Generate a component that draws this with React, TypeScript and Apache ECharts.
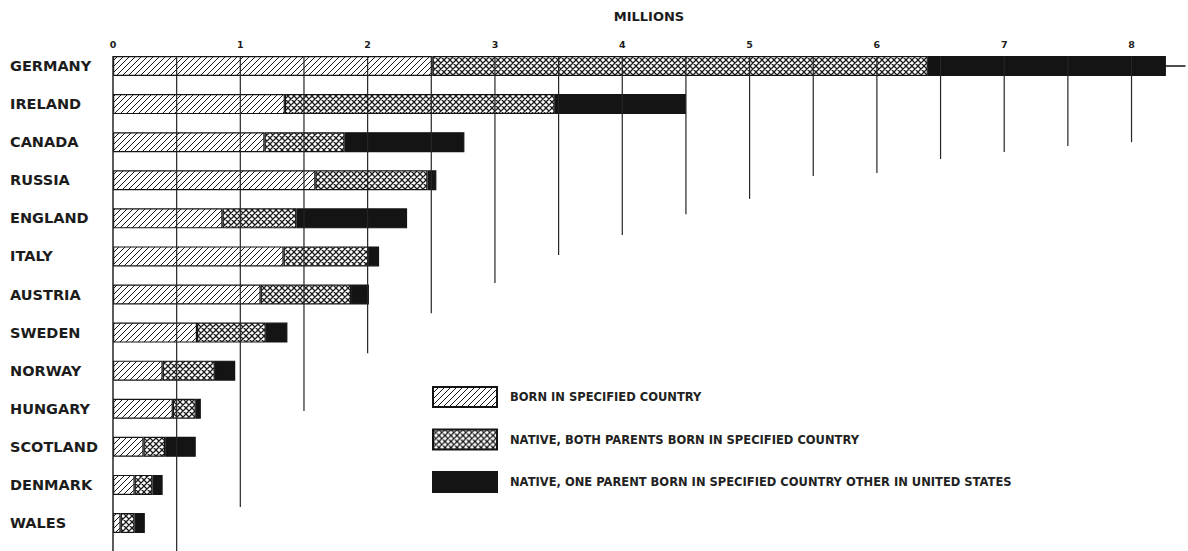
import React, { useEffect, useRef } from "react";
import * as echarts from "echarts";

const categories = ["GERMANY", "IRELAND", "CANADA", "RUSSIA", "ENGLAND", "ITALY", "AUSTRIA", "SWEDEN", "NORWAY", "HUNGARY", "SCOTLAND", "DENMARK", "WALES"];
const bornAbroad = [2.51, 1.35, 1.19, 1.59, 0.86, 1.34, 1.16, 0.66, 0.39, 0.47, 0.24, 0.17, 0.06];
const bothParents = [3.89, 2.12, 0.63, 0.88, 0.58, 0.67, 0.71, 0.54, 0.41, 0.18, 0.17, 0.14, 0.11];
const oneParent = [1.87, 1.03, 0.94, 0.07, 0.87, 0.08, 0.14, 0.17, 0.16, 0.04, 0.24, 0.08, 0.08];
const seriesNames = [
  "BORN IN SPECIFIED COUNTRY",
  "NATIVE, BOTH PARENTS BORN IN SPECIFIED COUNTRY",
  "NATIVE, ONE PARENT BORN IN SPECIFIED COUNTRY OTHER IN UNITED STATES",
];
// vertical guide rules (millions) and the row (category index) where each one stops
const guideValues = [0, 0.5, 1, 1.5, 2, 2.5, 3, 3.5, 4, 4.5, 5, 5.5, 6, 6.5, 7, 7.5, 8];
const guideEndRow = [13, 13, 11.58, 9.06, 7.54, 6.49, 5.7, 4.96, 4.44, 3.89, 3.49, 2.89, 2.81, 2.44, 2.26, 2.1, 2.0];

const AXIS_INSET = 9;
const INK = "#141414";

function makePattern(kind: "hatch" | "cross") {
  const s = 6;
  const c = document.createElement("canvas");
  c.width = s;
  c.height = s;
  const ctx = c.getContext("2d")!;
  ctx.fillStyle = "#ffffff";
  ctx.fillRect(0, 0, s, s);
  ctx.strokeStyle = "#1a1a1a";
  ctx.lineWidth = kind === "hatch" ? 1 : 1.25;
  ctx.beginPath();
  for (const o of [-s, 0, s]) {
    ctx.moveTo(o, s);
    ctx.lineTo(o + s, 0);
    if (kind === "cross") {
      ctx.moveTo(o, 0);
      ctx.lineTo(o + s, s);
    }
  }
  ctx.stroke();
  return { image: c.toDataURL(), repeat: "repeat", imageWidth: s, imageHeight: s } as any;
}

export default function App() {
  const ref = useRef<HTMLDivElement>(null);
  useEffect(() => {
    if (!ref.current) return;
    const chart = echarts.init(ref.current, null, { renderer: "svg" });
    const hatch = makePattern("hatch");
    const cross = makePattern("cross");
    const barStyle = (color: any) => ({ color, borderColor: INK, borderWidth: 1.2 });
    const option: any = {
      animation: false,
      backgroundColor: "#ffffff",
      grid: { left: 113, right: 0, top: 47, bottom: 9, containLabel: false },
      legend: {
        orient: "vertical",
        left: 427,
        top: 381,
        itemWidth: 64,
        itemHeight: 20,
        itemGap: 20.5,
        icon: "rect",
        selectedMode: false,
        data: seriesNames,
        textStyle: {
          fontFamily: "DejaVu Sans",
          fontWeight: "bold",
          fontSize: 11.5,
          color: "#222",
          padding: [0, 0, 0, 8],
        },
      },
      xAxis: {
        type: "value",
        position: "top",
        offset: -AXIS_INSET,
        min: 0,
        max: 8.42,
        interval: 1,
        name: "MILLIONS",
        nameLocation: "middle",
        nameGap: 33,
        nameTextStyle: { fontFamily: "DejaVu Sans", fontWeight: "bold", fontSize: 13, color: "#1c1c1c" },
        axisLine: { show: true, lineStyle: { color: INK, width: 1.5 } },
        axisTick: { show: false },
        splitLine: { show: false },
        axisLabel: {
          margin: 7,
          fontFamily: "DejaVu Sans",
          fontWeight: "bold",
          fontSize: 9.5,
          color: "#1c1c1c",
          formatter: (v: number) => (Number.isInteger(v) ? String(v) : ""),
        },
      },
      yAxis: [
        {
          type: "category",
          data: categories,
          inverse: true,
          axisLine: { show: false },
          axisTick: { show: false },
          splitLine: { show: false },
          axisLabel: {
            align: "left",
            margin: 103,
            fontFamily: "DejaVu Sans",
            fontWeight: "bold",
            fontSize: 14.5,
            color: "#1c1c1c",
          },
        },
        {
          type: "value",
          min: -0.5,
          max: 12.5,
          inverse: true,
          show: false,
        },
      ],
      series: [
        {
          name: seriesNames[0],
          type: "bar",
          stack: "total",
          barWidth: 20,
          data: bornAbroad,
          itemStyle: barStyle(hatch),
          z: 2,
        },
        {
          name: seriesNames[1],
          type: "bar",
          stack: "total",
          barWidth: 20,
          data: bothParents,
          itemStyle: barStyle(cross),
          z: 2,
        },
        {
          name: seriesNames[2],
          type: "bar",
          stack: "total",
          barWidth: 20,
          data: oneParent,
          itemStyle: barStyle(INK),
          z: 2,
        },
        {
          type: "custom",
          xAxisIndex: 0,
          yAxisIndex: 1,
          z: 3,
          silent: true,
          clip: false,
          data: guideValues.map((v, i) => [v, guideEndRow[i]]),
          renderItem: (params: any, api: any) => {
            const p = api.coord([api.value(0), api.value(1)]);
            const top = params.coordSys.y + AXIS_INSET;
            return {
              type: "line",
              shape: { x1: p[0], y1: top, x2: p[0], y2: p[1] },
              style: { stroke: "#262626", lineWidth: api.value(0) === 0 ? 1.5 : 1.2 },
            };
          },
        },
      ],
    };
    chart.setOption(option);
    return () => chart.dispose();
  }, []);
  return <div ref={ref} style={{ position: "fixed", left: 0, top: 0, width: 1188, height: 551 }} />;
}
